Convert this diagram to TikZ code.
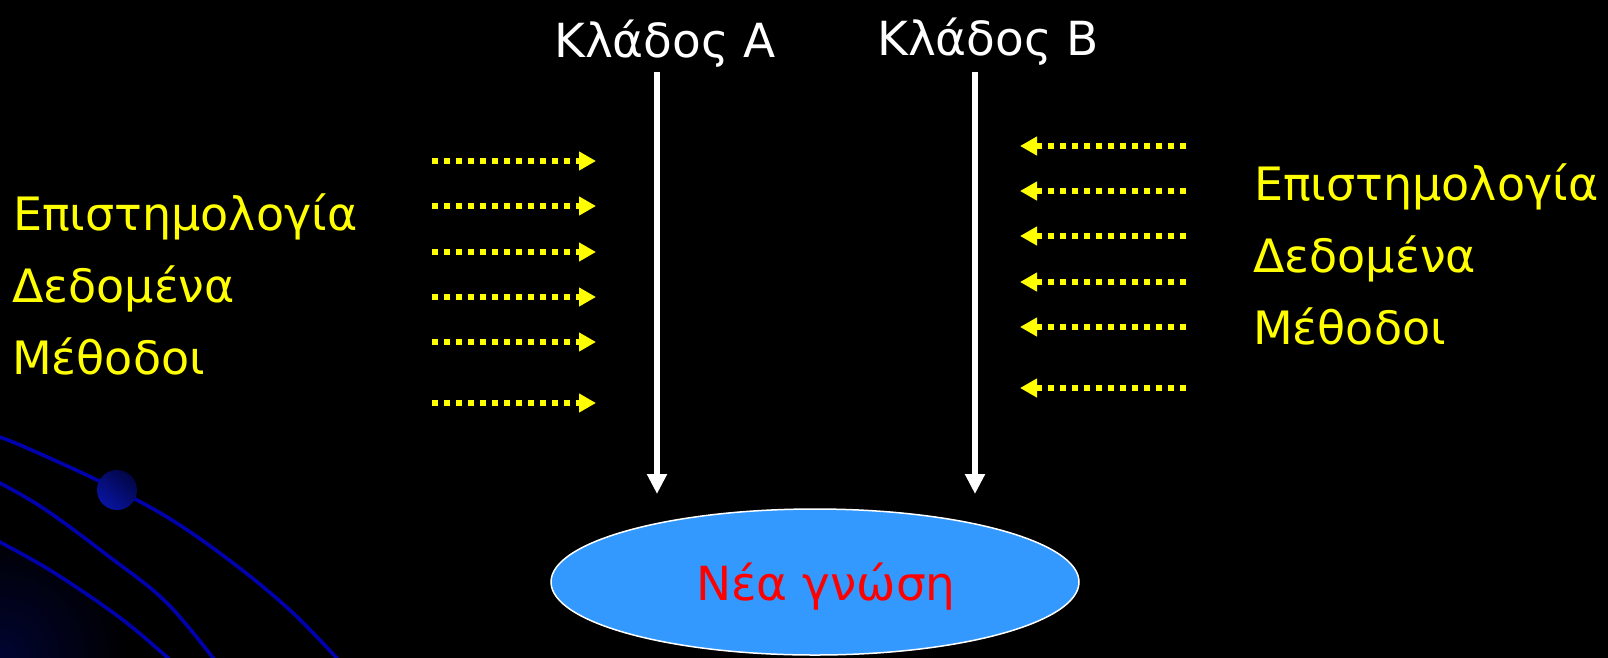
\documentclass[tikz,border=0pt]{standalone}
\usepackage{fontspec}
\setmainfont{DejaVu Sans}
\usetikzlibrary{arrows.meta,shapes.geometric}
\definecolor{orbit}{RGB}{0,0,172}
\definecolor{planet}{RGB}{8,20,160}
\definecolor{planetdark}{RGB}{2,6,70}
\definecolor{bubble}{RGB}{51,153,255}
\definecolor{flowyellow}{RGB}{255,255,0}
\tikzset{
  big/.style={font=\fontsize{47}{56}\selectfont, inner sep=0pt},
  side/.style={font=\fontsize{46}{55}\selectfont, inner sep=0pt},
  branch/.style={big, text=white, anchor=base west},
  factor/.style={side, text=flowyellow, anchor=base west},
  trunk/.style={draw=white, line width=6pt, -{Triangle[length=20pt,width=19pt]}},
  feed/.style={draw=flowyellow, line width=6pt, dash pattern=on 6pt off 6pt,
    -{Triangle[length=17pt,width=18pt]}},
  orbitline/.style={draw=orbit, line width=3.6pt, line join=round}
}
\begin{document}
\begin{tikzpicture}[x=1pt,y=-1pt]
  % page frame first, then a background a little larger than it
  \useasboundingbox (0,0) rectangle (1608,657);
  \fill[black] (-6,-6) rectangle (1614,663);

  % decoration in the lower left corner
  \begin{scope}
    \clip (-6,-6) rectangle (1614,663);
    \shade[inner color=planetdark!70!black, outer color=black]
      (0,657) circle (130);
    \fill[black] (0,542) .. controls (60,575) and (120,615) .. (172,657)
      -- (172,663) -- (1614,663) -- (1614,-6) -- (0,-6) -- cycle;
    \draw[orbitline] plot[smooth, tension=0.6] coordinates
      {(-4,436) (20,445) (97,480) (167,517) (233,563) (293,613) (345,667)};
    \draw[orbitline] plot[smooth, tension=0.6] coordinates
      {(-4,481) (43,508) (107,555) (167,603) (220,667)};
    \draw[orbitline] plot[smooth, tension=0.6] coordinates
      {(-4,540) (53,572) (123,620) (178,667)};
    \shade[top color=planetdark, bottom color=planet, shading angle=-40]
      (117,490) circle (20);
  \end{scope}

  % branch headings
  \node[branch] (ka) at (554,57) {Κλάδος A};
  \node[branch] (kb) at (877,55) {Κλάδος B};

  % resulting knowledge
  \node[ellipse, draw=white, line width=1.5pt, fill=bubble,
        minimum width=528pt, minimum height=146pt, inner sep=0pt] (nea) at (815,582) {};
  \node[big, text=red, anchor=base] (neatext) at (826,600) {Νέα γνώση};

  % vertical flows
  \coordinate (a0) at (657,72);
  \coordinate (a1) at (657,494);
  \coordinate (b0) at (975,72);
  \coordinate (b1) at (975,494);
  \draw[trunk] (a0) -- (a1);
  \draw[trunk] (b0) -- (b1);

  % side labels
  \node[factor] (l1) at (13,230) {Επιστημολογία};
  \node[factor] (l2) at (12,302) {Δεδομένα};
  \node[factor] (l3) at (12,374) {Μέθοδοι};
  \node[factor] (r1) at (1254,200) {Επιστημολογία};
  \node[factor] (r2) at (1253,272) {Δεδομένα};
  \node[factor] (r3) at (1253,344) {Μέθοδοι};

  % inputs feeding the branches
  \foreach \y [count=\i] in {161,206,252,297,342,403} {
    \coordinate (ls\i) at (432,\y);
    \coordinate (le\i) at (596,\y);
    \draw[feed] (ls\i) -- (le\i);
  }
  \foreach \y [count=\i] in {146,191,236,282,327,388} {
    \coordinate (rs\i) at (1186,\y);
    \coordinate (re\i) at (1020,\y);
    \draw[feed] (rs\i) -- (re\i);
  }
\end{tikzpicture}
\end{document}
